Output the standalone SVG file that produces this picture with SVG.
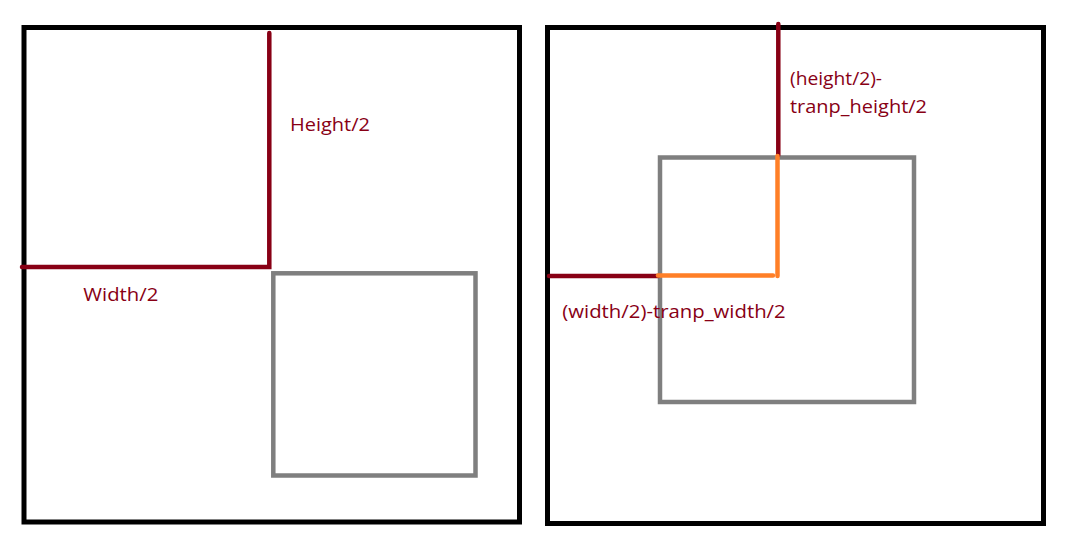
<svg xmlns="http://www.w3.org/2000/svg" width="1076" height="548" viewBox="0 0 1076 548">
<style>
.frame{fill:none;stroke:#000;stroke-width:5}
.inner{fill:none;stroke:#7f7f7f;stroke-width:4.5}
.red{fill:none;stroke:#880015;stroke-width:4.5;stroke-linecap:round}
.orange{fill:none;stroke:#ff7f27;stroke-width:4.5;stroke-linecap:round}
.lbl{font-family:"Open Sans","Liberation Sans",sans-serif;font-size:19px;fill:#880015}
</style>
<rect width="1076" height="548" fill="#fff"/>
<g id="left-frame"><rect class="frame" x="24" y="27.5" width="495.5" height="494.5"/></g>
<g id="left-inner"><rect class="inner" x="273.3" y="273.3" width="202.2" height="202.2"/></g>
<g id="right-frame"><rect class="frame" x="547.5" y="27.5" width="496" height="496"/></g>
<g id="right-inner"><rect class="inner" x="660" y="157.5" width="254" height="244.5"/></g>
<g id="connectors">
<path class="red" d="M269.3 33 V267 H22"/>
<path class="red" d="M778.3 24 V155"/>
<path class="red" d="M549 276 H658"/>
<path class="orange" d="M777.5 156 V276"/>
<path class="orange" d="M658 275.5 H773"/>
</g>
<g id="labels">
<text class="lbl" x="290" y="131" textLength="80" lengthAdjust="spacingAndGlyphs">Height/2</text>
<text class="lbl" x="83.3" y="300.7" textLength="75" lengthAdjust="spacingAndGlyphs">Width/2</text>
<text class="lbl" x="790" y="85" textLength="92" lengthAdjust="spacingAndGlyphs">(height/2)-</text>
<text class="lbl" x="790" y="112.7" textLength="137" lengthAdjust="spacingAndGlyphs">tranp_height/2</text>
<text class="lbl" x="562.3" y="318.3" textLength="223.4" lengthAdjust="spacingAndGlyphs">(width/2)-tranp_width/2</text>
</g>
</svg>
